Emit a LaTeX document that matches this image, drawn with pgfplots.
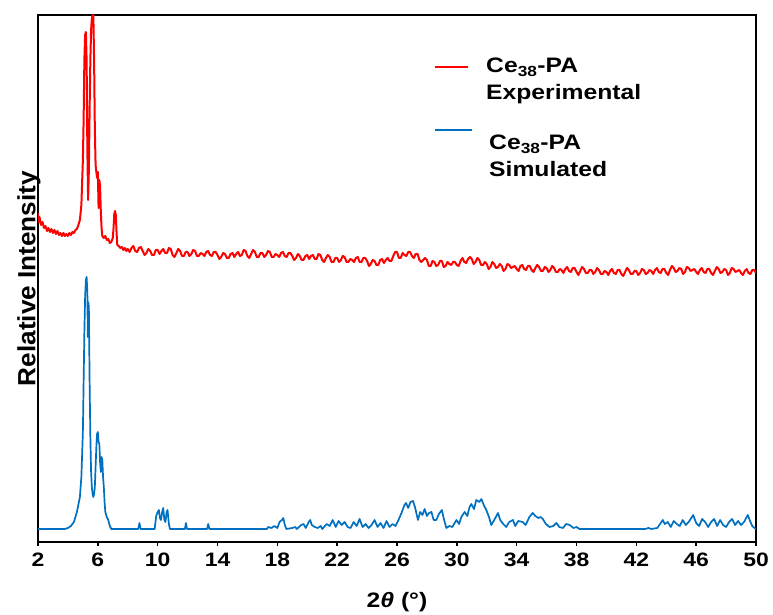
\documentclass[border=0pt]{standalone}
\usepackage{fontspec}
\setmainfont{Liberation Sans}[FakeStretch=1.18]
\newfontfamily\ylabfont{Liberation Sans}[FakeStretch=1.05]
\usepackage{pgfplots}
\pgfplotsset{compat=1.18}
\definecolor{simblue}{RGB}{0,112,192}

\begin{document}
\begin{tikzpicture}[x=1bp,y=1bp]
\path[use as bounding box] (0,0) rectangle (773,615);
\begin{axis}[
  at={(38bp,73bp)}, anchor=south west,
  width=718bp, height=527bp, scale only axis,
  xmin=2, xmax=50, ymin=0, ymax=527,
  xtick={2,6,...,50}, ytick=\empty,
  xtick pos=bottom, tick align=outside,
  major tick length=4bp,
  axis line style={line width=1.5bp, black},
  every tick/.style={line width=1.5bp, black},
  xticklabel style={font=\bfseries\fontsize{19.5}{21}\selectfont, yshift=-3.5bp},
  /pgf/number format/assume math mode=true,
  xlabel={2\textit{θ} (°)},
  xlabel style={font=\bfseries\fontsize{21}{24}\selectfont, at={(axis description cs:0.5,-0.125)}, anchor=base},
  ylabel={Relative Intensity},
  ylabel style={font=\ylabfont\bfseries\fontsize{25}{28}\selectfont, at={(axis description cs:-0.0035,0.5)}, anchor=base},
  clip=true,
]
\addplot[red, line width=2bp, line join=round] coordinates {
(2.00,329)(2.05,320)(2.10,325)(2.20,317)(2.30,320)(2.40,314)(2.50,316)(2.60,311)(2.70,314)(2.80,310)
(2.90,313)(3.00,309)(3.10,312)(3.20,308)(3.30,311)(3.40,307)(3.50,309)(3.60,306)(3.70,309)(3.80,306)
(3.90,308)(4.00,306)(4.10,309)(4.20,307)(4.30,310)(4.40,309)(4.50,312)(4.60,313)(4.70,317)(4.80,322)
(4.90,337)(5.00,382)(5.05,422)(5.10,482)(5.15,507)(5.20,510)(5.25,482)(5.30,392)(5.35,342)(5.40,372)
(5.45,432)(5.50,482)(5.55,512)(5.60,524)(5.65,527)(5.70,527)(5.75,482)(5.80,412)(5.85,377)(5.90,370)
(5.95,364)(6.00,370)(6.05,334)(6.10,362)(6.15,356)(6.20,330)(6.25,314)(6.30,306)(6.40,304)(6.50,306)
(6.60,302)(6.70,303)(6.80,299)(6.90,300)(7.00,304)(7.05,314)(7.10,328)(7.15,331)(7.20,327)(7.25,310)
(7.30,297)(7.40,296)(7.50,294)(7.60,295)(7.70,292)(7.80,294)(7.90,291)(8.00,293)
(8.125,290)(8.25,294)(8.375,296)(8.5,291)(8.625,290)(8.75,294)(8.875,295)(9.0,291)(9.125,287)(9.25,289)
(9.375,293)(9.5,291)(9.625,287)(9.75,287)(9.875,292)(10.0,292)(10.125,288)(10.25,291)(10.375,293)(10.5,289)
(10.625,289)(10.75,294)(10.875,293)(11.0,287)(11.125,285)(11.25,289)(11.375,293)(11.5,291)(11.625,286)(11.75,286)
(11.875,290)(12.0,290)(12.125,286)(12.25,288)(12.375,292)(12.5,291)(12.625,286)(12.75,286)(12.875,289)(13.0,288)
(13.125,286)(13.25,290)(13.375,291)(13.5,287)(13.625,286)(13.75,290)(13.875,290)(14.0,287)(14.125,283)(14.25,285)
(14.375,289)(14.5,288)(14.625,284)(14.75,284)(14.875,288)(15.0,289)(15.125,285)(15.25,288)(15.375,290)(15.5,286)
(15.625,287)(15.75,292)(15.875,291)(16.0,286)(16.125,284)(16.25,288)(16.375,292)(16.5,290)(16.625,285)(16.75,285)
(16.875,289)(17.0,289)(17.125,285)(17.25,287)(17.375,291)(17.5,290)(17.625,285)(17.75,285)(17.875,288)(18.0,287)
(18.125,285)(18.25,289)(18.375,290)(18.5,286)(18.625,285)(18.75,289)(18.875,289)(19.0,286)(19.125,282)(19.25,284)
(19.375,288)(19.5,286)(19.625,282)(19.75,282)(19.875,286)(20.0,287)(20.125,283)(20.25,286)(20.375,287)(20.5,283)
(20.625,283)(20.75,288)(20.875,287)(21.0,282)(21.125,280)(21.25,284)(21.375,287)(21.5,285)(21.625,280)(21.75,280)
(21.875,284)(22.0,284)(22.125,280)(22.25,282)(22.375,286)(22.5,285)(22.625,280)(22.75,280)(22.875,283)(23.0,282)
(23.125,280)(23.25,284)(23.375,285)(23.5,280)(23.625,280)(23.75,284)(23.875,284)(24.0,281)(24.125,276)(24.25,278)
(24.375,282)(24.5,281)(24.625,277)(24.75,277)(24.875,282)(25.0,283)(25.125,279)(25.25,282)(25.375,284)(25.5,281)
(25.625,281)(25.75,286)(25.875,290)(26.0,290)(26.125,284)(26.25,284)(26.375,289)(26.5,287)(26.625,286)(26.75,290)
(26.875,290)(27.0,286)(27.125,284)(27.25,288)(27.375,288)(27.5,282)(27.625,280)(27.75,282)(27.875,284)(28.0,282)
(28.125,276)(28.25,276)(28.375,281)(28.5,280)(28.625,276)(28.75,277)(28.875,281)(29.0,281)(29.125,275)(29.25,276)
(29.375,280)(29.5,278)(29.625,277)(29.75,280)(29.875,280)(30.0,277)(30.125,276)(30.25,281)(30.375,284)(30.5,280)
(30.625,279)(30.75,283)(30.875,285)(31.0,283)(31.125,278)(31.25,280)(31.375,284)(31.5,282)(31.625,277)(31.75,277)
(31.875,280)(32.0,278)(32.125,273)(32.25,275)(32.375,280)(32.5,278)(32.625,274)(32.75,275)(32.875,278)(33.0,276)
(33.125,271)(33.25,273)(33.375,278)(33.5,277)(33.625,274)(33.75,275)(33.875,276)(34.0,273)(34.125,271)(34.25,276)
(34.375,277)(34.5,273)(34.625,272)(34.75,276)(34.875,276)(35.0,272)(35.125,270)(35.25,274)(35.375,277)(35.5,275)
(35.625,271)(35.75,271)(35.875,275)(36.0,274)(36.125,270)(36.25,272)(36.375,276)(36.5,274)(36.625,270)(36.75,270)
(36.875,273)(37.0,272)(37.125,269)(37.25,273)(37.375,275)(37.5,271)(37.625,270)(37.75,274)(37.875,274)(38.0,270)
(38.125,267)(38.25,271)(38.375,275)(38.5,273)(38.625,269)(38.75,269)(38.875,272)(39.0,272)(39.125,268)(39.25,270)
(39.375,274)(39.5,272)(39.625,268)(39.75,268)(39.875,271)(40.0,270)(40.125,267)(40.25,271)(40.375,273)(40.5,269)
(40.625,268)(40.75,272)(40.875,272)(41.0,268)(41.125,266)(41.25,270)(41.375,274)(41.5,272)(41.625,268)(41.75,268)
(41.875,271)(42.0,271)(42.125,267)(42.25,269)(42.375,273)(42.5,272)(42.625,268)(42.75,269)(42.875,272)(43.0,271)
(43.125,268)(43.25,272)(43.375,274)(43.5,270)(43.625,269)(43.75,273)(43.875,273)(44.0,269)(44.125,267)(44.25,272)
(44.375,276)(44.5,274)(44.625,270)(44.75,271)(44.875,274)(45.0,273)(45.125,268)(45.25,270)(45.375,275)(45.5,274)
(45.625,271)(45.75,272)(45.875,273)(46.0,270)(46.125,268)(46.25,272)(46.375,274)(46.5,270)(46.625,269)(46.75,273)
(46.875,273)(47.0,269)(47.125,267)(47.25,271)(47.375,275)(47.5,273)(47.625,269)(47.75,270)(47.875,273)(48.0,272)
(48.125,267)(48.25,269)(48.375,274)(48.5,273)(48.625,270)(48.75,271)(48.875,272)(49.0,269)(49.125,267)(49.25,271)
(49.375,273)(49.5,269)(49.625,268)(49.75,272)(49.875,272)(50.0,269)
};
\addplot[simblue, line width=1.7bp, line join=round] coordinates {
(2.0,13)(3.8,13)(4.0,14)(4.2,16)(4.4,20)(4.6,30)(4.8,45)(4.9,65)(5.0,110)(5.05,160)
(5.1,210)(5.15,245)(5.2,262)(5.25,265)(5.3,250)(5.33,205)(5.36,240)(5.4,235)(5.45,160)(5.5,105)
(5.55,70)(5.6,55)(5.65,48)(5.7,45)(5.75,48)(5.8,55)(5.85,75)(5.9,95)(5.95,108)(6.0,110)
(6.05,100)(6.1,98)(6.15,80)(6.2,70)(6.25,85)(6.3,82)(6.35,65)(6.4,55)(6.45,40)(6.5,30)
(6.6,25)(6.7,22)(6.8,16)(6.9,13)(8.7,13)(8.78,19)(8.86,13)(9.8,13)(9.9,26)(10.0,30)
(10.08,32)(10.15,24)(10.22,22)(10.3,30)(10.37,34)(10.45,22)(10.52,20)(10.6,30)(10.66,32)(10.75,18)
(10.82,13)(11.82,13)(11.89,19)(11.96,13)(13.3,13)(13.38,18)(13.46,13)(17.3,13)(17.4,15)(17.6,14)
(17.8,16)(18.0,14)(18.15,20)(18.3,22)(18.4,24)(18.5,17)(18.6,13)(19.0,14)(19.2,15)(19.3,13)
(19.6,17)(19.75,18)(19.9,14)(20.1,20)(20.2,22)(20.3,17)(20.5,15)(20.7,14)(20.9,16)(21.0,13)
(21.3,18)(21.5,16)(21.7,22)(21.9,15)(22.1,21)(22.3,17)(22.5,20)(22.7,15)(22.9,14)(23.1,20)
(23.3,16)(23.5,23)(23.7,15)(23.9,18)(24.1,14)(24.3,17)(24.5,22)(24.7,15)(24.9,19)(25.1,14)
(25.3,21)(25.5,15)(25.7,18)(25.9,16)(26.1,22)(26.3,29)(26.5,37)(26.6,39)(26.75,34)(26.9,40)
(27.07,41)(27.2,35)(27.4,22)(27.55,30)(27.7,27)(27.85,33)(28.0,26)(28.15,29)(28.3,30)(28.45,22)
(28.63,22)(28.8,28)(29.0,32)(29.15,22)(29.3,14)(29.5,16)(29.7,15)(29.97,22)(30.15,18)(30.3,25)
(30.52,30)(30.7,26)(30.85,35)(30.97,38)(31.15,33)(31.3,42)(31.5,40)(31.64,43)(31.8,37)(31.97,32)
(32.15,25)(32.3,17)(32.5,22)(32.75,29)(32.9,22)(33.1,18)(33.3,15)(33.5,20)(33.75,22)(33.9,16)
(34.1,21)(34.4,20)(34.6,17)(34.85,25)(35.07,29)(35.25,26)(35.45,24)(35.6,25)(35.75,23)(35.95,18)
(36.2,15)(36.45,16)(36.65,19)(36.85,15)(37.1,14)(37.3,18)(37.54,17)(37.8,14)(38.0,15)(38.2,13)
(42.6,13)(42.8,14)(43.0,13)(43.4,14)(43.77,22)(43.9,18)(44.1,20)(44.3,15)(44.5,21)(44.7,18)
(44.9,16)(45.1,22)(45.3,17)(45.5,20)(45.8,27)(46.0,19)(46.2,16)(46.4,23)(46.6,20)(46.8,15)
(47.0,20)(47.2,23)(47.4,16)(47.6,22)(47.8,17)(48.0,15)(48.2,20)(48.4,23)(48.6,17)(48.8,21)
(49.0,17)(49.2,20)(49.45,27)(49.6,21)(49.75,16)(49.9,14)(50.0,13)
};
\end{axis}
% legend
\draw[red, line width=1.5bp] (435,548) -- (468,548);
\node[anchor=base west, inner sep=0pt, font=\bfseries\fontsize{21}{24}\selectfont] at (486,542) {Ce\textsubscript{38}-PA};
\node[anchor=base west, inner sep=0pt, font=\bfseries\fontsize{21}{24}\selectfont] at (486,515) {Experimental};
\draw[simblue, line width=1.5bp] (435,485) -- (472,485);
\node[anchor=base west, inner sep=0pt, font=\bfseries\fontsize{21}{24}\selectfont] at (489,465) {Ce\textsubscript{38}-PA};
\node[anchor=base west, inner sep=0pt, font=\bfseries\fontsize{21}{24}\selectfont] at (489,438) {Simulated};
\end{tikzpicture}
\end{document}
